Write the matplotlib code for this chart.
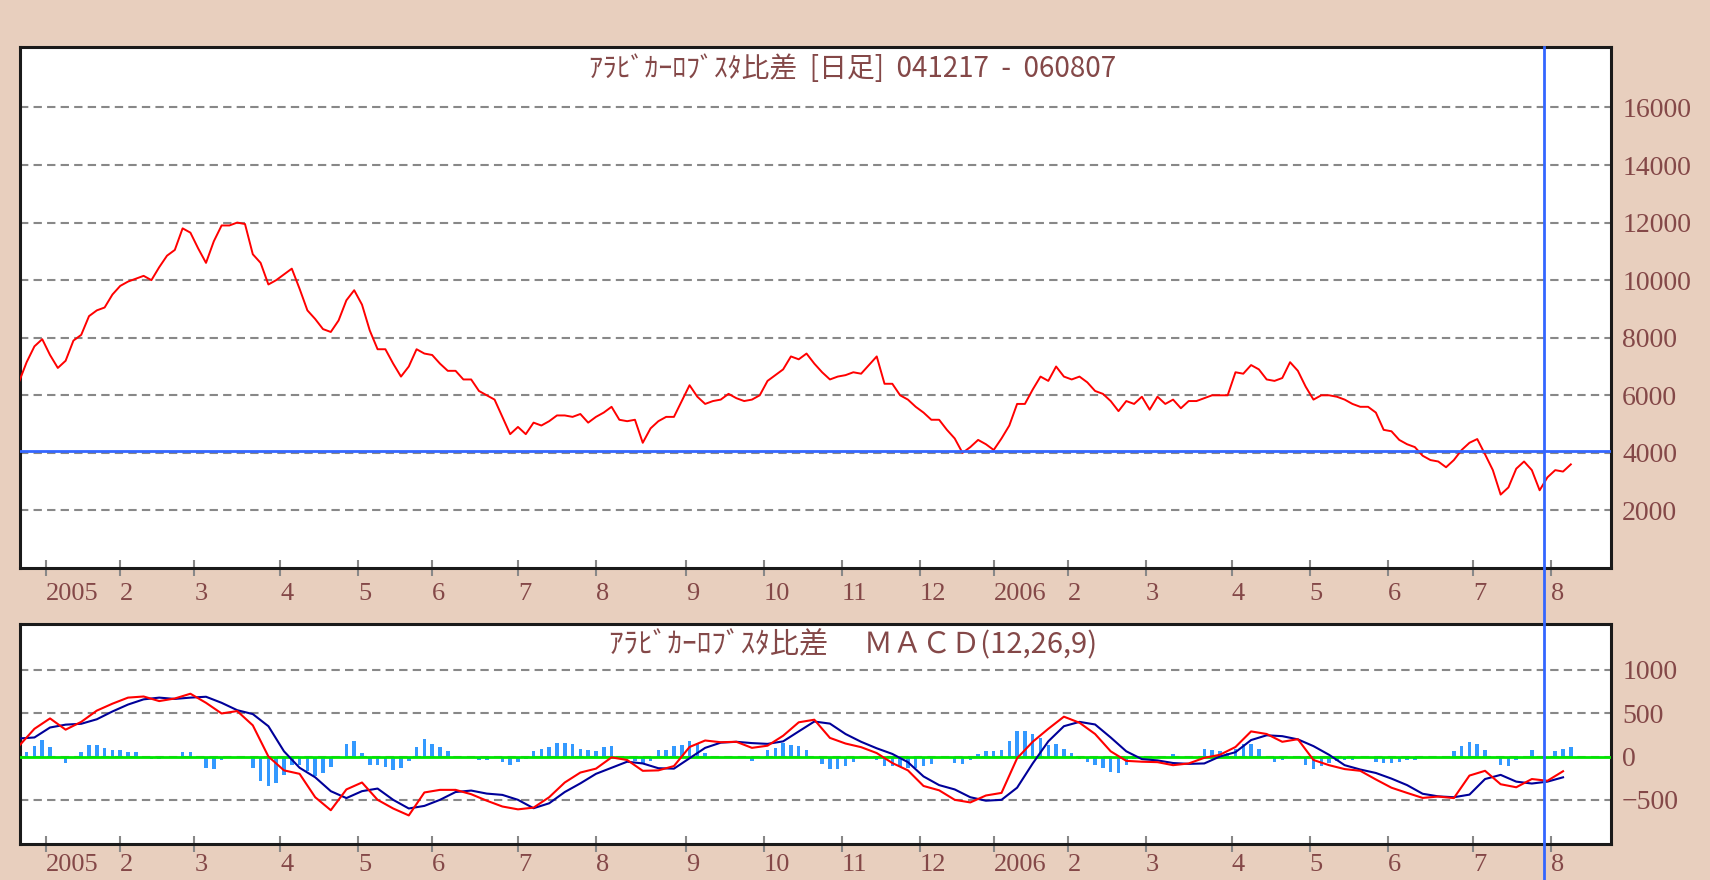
import numpy as np
import pandas as pd
import matplotlib
matplotlib.use('Agg')
import matplotlib.pyplot as plt
from matplotlib.lines import Line2D

# 終値(比差) 2営業日ごとに読み取り 041217 〜 060807
price = [6450, 7150, 7700, 7950, 7400, 6950, 7200, 7900, 8100, 8750,
         8950, 9050, 9500, 9800, 9950, 10050, 10150, 10000, 10450, 10850,
         11050, 11800, 11650, 11100, 10600, 11350, 11900, 11900, 12000, 11950,
         10900, 10600, 9850, 10000, 10200, 10400, 9700, 8950, 8650, 8300,
         8200, 8600, 9300, 9650, 9150, 8250, 7600, 7600, 7100, 6650,
         7000, 7600, 7450, 7400, 7100, 6850, 6850, 6550, 6550, 6150,
         6000, 5850, 5250, 4650, 4900, 4650, 5050, 4950, 5100, 5300,
         5300, 5250, 5350, 5050, 5250, 5400, 5600, 5150, 5100, 5150,
         4350, 4850, 5100, 5250, 5250, 5800, 6350, 5950, 5700, 5800,
         5850, 6050, 5900, 5800, 5850, 6000, 6500, 6700, 6900, 7350,
         7250, 7450, 7100, 6800, 6550, 6650, 6700, 6800, 6750, 7050,
         7350, 6400, 6400, 6000, 5850, 5600, 5400, 5150, 5150, 4800,
         4500, 4000, 4200, 4450, 4300, 4100, 4500, 4950, 5700, 5700,
         6200, 6650, 6500, 7000, 6650, 6550, 6650, 6450, 6150, 6050,
         5800, 5450, 5800, 5700, 5950, 5500, 5950, 5700, 5850, 5550,
         5800, 5800, 5900, 6000, 6000, 6000, 6800, 6750, 7050, 6900,
         6550, 6500, 6600, 7150, 6850, 6300, 5850, 6000, 6000, 5950,
         5850, 5700, 5600, 5600, 5400, 4800, 4750, 4450, 4300, 4200,
         3900, 3750, 3700, 3500, 3750, 4100, 4350, 4480, 3950, 3400,
         2550, 2800, 3450, 3700, 3400, 2700, 3150, 3400, 3350, 3600]
PRICE_STEP = 2

# MACD と シグナル 4営業日ごと
macd = [120, 320, 440, 310, 400, 530, 610, 680, 693, 640,
        670, 725, 620, 497, 525, 360, 0, -160, -200, -470,
        -620, -380, -300, -500, -600, -680, -415, -385, -385, -435,
        -510, -577, -610, -590, -470, -300, -185, -140, -10, -40,
        -165, -160, -110, 110, 185, 165, 170, 100, 125, 240,
        395, 425, 215, 150, 108, 40, -75, -160, -340, -390,
        -500, -530, -450, -420, -20, 170, 320, 460, 390, 260,
        60, -50, -60, -65, -100, -80, -15, 20, 110, 290,
        260, 170, 200, -40, -100, -145, -165, -265, -360, -420,
        -478, -462, -480, -220, -165, -320, -355, -260, -280, -170]
signal = [208, 220, 335, 368, 378, 430, 520, 600, 660, 680,
          665, 680, 690, 620, 535, 490, 350, 60, -130, -240,
          -400, -480, -400, -370, -500, -600, -570, -500, -410, -393,
          -428, -443, -500, -597, -540, -410, -310, -200, -130, -60,
          -80, -135, -140, -20, 100, 160, 170, 155, 146, 175,
          290, 404, 380, 260, 170, 95, 30, -65, -230, -330,
          -380, -470, -510, -500, -360, -80, 175, 350, 400, 370,
          220, 60, -30, -45, -75, -85, -80, 0, 50, 190,
          245, 235, 198, 120, 20, -100, -150, -190, -255, -330,
          -430, -460, -470, -440, -260, -212, -290, -312, -290, -240]
MACD_STEP = 4

# ヒストグラム 2営業日ごと
hist = [-20, 50, 120, 190, 110, 0, -80, 0, 50, 130,
        130, 95, 75, 75, 55, 55, 0, -30, -30, 0,
        0, 55, 55, -20, -130, -140, -45, 0, 0, 0,
        -130, -280, -335, -300, -210, -100, -100, -170, -220, -190,
        -120, -20, 150, 180, 40, -100, -100, -120, -150, -130,
        -50, 110, 200, 146, 110, 60, 0, 0, -20, -35,
        -35, -20, -58, -96, -58, -30, 60, 85, 110, 160,
        154, 140, 90, 70, 65, 108, 123, 0, -20, -50,
        -77, -50, 77, 80, 125, 130, 180, 160, 40, 0,
        0, 0, 0, -10, -50, 0, 70, 100, 154, 130,
        123, 75, 0, -90, -140, -140, -115, -60, -20, 0,
        -40, -108, -115, -123, -135, -130, -110, -90, -10, -20,
        -70, -85, -35, 30, 58, 58, 70, 180, 290, 300,
        265, 210, 130, 140, 90, 40, -30, -60, -95, -135,
        -180, -190, -100, -30, 0, 0, 0, 0, 25, 0,
        0, 0, 85, 70, 58, 45, 90, 150, 140, 90,
        0, -60, -40, 0, 0, -100, -140, -110, -75, -50,
        -38, -35, -20, 0, -60, -75, -77, -60, -45, -40,
        -20, 0, 0, 0, 60, 120, 170, 150, 80, 0,
        -100, -115, -40, 0, 70, 0, 0, 58, 85, 108]

# 休場日
closed = ['2004-12-23', '2004-12-29', '2004-12-30', '2004-12-31',
          '2005-01-03', '2005-01-10', '2005-02-11', '2005-03-21', '2005-04-29',
          '2005-05-03', '2005-05-04', '2005-05-05', '2005-07-18', '2005-09-19',
          '2005-09-23', '2005-10-10', '2005-11-03', '2005-11-23', '2005-12-23',
          '2005-12-29', '2005-12-30', '2006-01-02', '2006-01-03', '2006-01-09',
          '2006-03-21', '2006-05-03', '2006-05-04', '2006-05-05', '2006-07-17']
cursor_day = '2006-07-28'
cursor_value = 4070

title_top = 'ｱﾗﾋﾞｶｰﾛﾌﾞｽﾀ比差  [日足]  041217  -  060807'
title_macd = 'ｱﾗﾋﾞｶｰﾛﾌﾞｽﾀ比差　 ＭＡＣＤ(12,26,9)'

BG = '#E8CFBE'
TXT = '#844848'
CUR = '#3366FF'

plt.rcParams['font.family'] = ['Liberation Serif', 'DejaVu Serif']

# 営業日カレンダー → x 座標
days = pd.bdate_range('2004-12-17', '2006-09-29')
days = days[~days.isin(pd.to_datetime(closed))]
pos = pd.Series(np.arange(len(days)), index=days)
first = pos.groupby([days.year, days.month]).first()
month_idx, month_lbl = [], []
for (y, m), i in first.items():
    if (y, m) < (2005, 1) or (y, m) > (2006, 8):
        continue
    month_idx.append(i)
    month_lbl.append(str(y) if m == 1 else str(m))
cursor_idx = pos[pd.Timestamp(cursor_day)]

px = np.arange(len(price)) * PRICE_STEP
mx = np.arange(len(macd)) * MACD_STEP
hx = np.arange(len(hist)) * PRICE_STEP

fig = plt.figure(figsize=(17.1, 8.8), dpi=100, facecolor=BG)
ax1 = fig.add_axes([20 / 1710, 1 - 568 / 880, 1591 / 1710, 521 / 880])
ax2 = fig.add_axes([20 / 1710, 1 - 844 / 880, 1591 / 1710, 220 / 880])

ax1.plot(px, price, color='#FF0000', lw=1.4, zorder=4)
ax1.axhline(cursor_value, color=CUR, lw=2, zorder=5)
ax1.set_ylim(0, 18100)
ax1.set_yticks(range(2000, 16001, 2000))

ax2.bar(hx, hist, width=0.9, color='#3399FF', linewidth=0, zorder=2)
ax2.axhline(0, color='#00E600', lw=2, zorder=3)
ax2.plot(mx, signal, color='#000099', lw=1.5, zorder=4)
ax2.plot(mx, macd, color='#FF0000', lw=1.5, zorder=4)
ax2.set_ylim(-1010, 1530)
ax2.set_yticks([-500, 0, 500, 1000])
ax2.set_yticklabels(['−500', '0', '500', '1000'])

for ax, xpad in ((ax1, 5), (ax2, 1)):
    ax.set_facecolor('white')
    ax.set_xlim(0.3, 408.3)
    ax.set_xticks(month_idx)
    ax.set_xticklabels(month_lbl)
    ax.yaxis.tick_right()
    ax.grid(axis='y', linestyle=(0, (4, 2.5)), color='#888888', lw=1.5, zorder=1)
    ax.tick_params(axis='x', direction='inout', length=12, width=1.5, color='#888888',
                   labelcolor=TXT, labelsize=19, pad=xpad)
    ax.tick_params(axis='y', length=0, pad=8, labelcolor=TXT, labelsize=20)
    for lbl in ax.get_xticklabels():
        lbl.set_horizontalalignment('left')
    for sp in ax.spines.values():
        sp.set_linewidth(2.2)
        sp.set_color('#1a1a1a')
    ax.set_axisbelow(True)

fig.text(853 / 1710, 1 - 69 / 880, title_top, ha='center', va='center', color=TXT,
         fontsize=20, family=['Noto Sans CJK JP', 'DejaVu Sans'])
fig.text(853 / 1710, 1 - 645 / 880, title_macd, ha='center', va='center', color=TXT,
         fontsize=21, family=['Noto Sans CJK JP', 'DejaVu Sans'])

# 縦のカーソル線 (両パネルを貫く)
xd = ax1.transData.transform((cursor_idx, 0))[0]
xf = fig.transFigure.inverted().transform((xd, 0))[0]
fig.add_artist(Line2D([xf, xf], [0, 1 - 47 / 880], transform=fig.transFigure,
                      color=CUR, lw=2, zorder=10))

fig.savefig('out.png', dpi=100, facecolor=BG)
